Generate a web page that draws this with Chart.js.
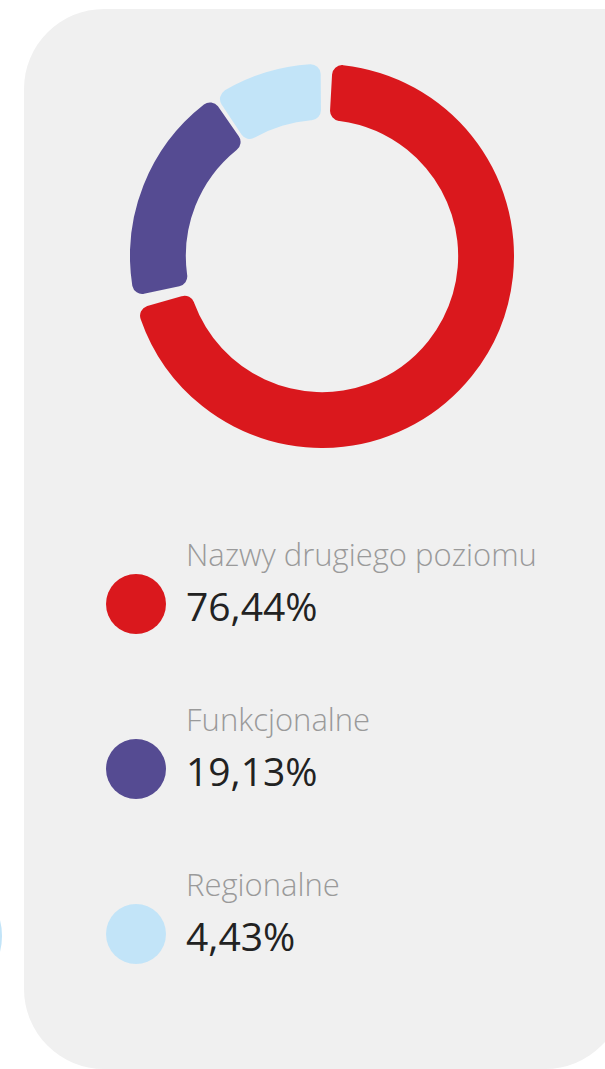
<!DOCTYPE html>
<html lang="pl">
<head>
<meta charset="utf-8">
<script src="https://cdn.jsdelivr.net/npm/chart.js@4"></script>
<style>
  html, body { margin: 0; padding: 0; background: #fff; }
  body { width: 605px; height: 1069px; position: relative; overflow: hidden; font-family: "Open Sans", sans-serif; }
  .panel {
    position: absolute; left: 24px; top: 9px; width: 601px; height: 1060px;
    background: #f0f0f0; border-radius: 80px 0 80px 80px;
  }
  .ghost {
    position: absolute; left: -118px; top: 876px; width: 120px; height: 120px;
    border: 2px solid #c2e4f8; border-radius: 50%; box-sizing: border-box;
  }
  .chart-box { position: absolute; left: 130px; top: 64px; width: 384px; height: 384px; }
  .item { position: absolute; left: 106px; width: 480px; height: 60px; }
  .dot { position: absolute; left: 0; top: 0; width: 60px; height: 60px; border-radius: 50%; }
  .name { position: absolute; left: 80px; top: -35px; font-size: 31px; line-height: 1; font-weight: 300; color: #9a9a9a; white-space: nowrap; }
  .value { position: absolute; left: 80px; top: 12px; font-size: 39px; line-height: 1; color: #222; white-space: nowrap; }
</style>
</head>
<body>
<div class="panel"></div>
<div class="ghost"></div>
<div class="chart-box"><canvas id="donut"></canvas></div>
<div id="legend"></div>
<script>
const categories = ["Nazwy drugiego poziomu", "Funkcjonalne", "Regionalne"];
// shares printed in the legend
const shares = [76.44, 19.13, 4.43];
// arc sizes as drawn in the ring (the small slice is drawn larger than its share)
const arcValues = [71.44, 19.13, 9.43];
const colors = ["#da181d", "#554b92", "#c2e4f8"];

const ctx = document.getElementById("donut").getContext("2d");
const donut = new Chart(ctx, {
  type: "doughnut",
  data: {
    labels: categories,
    datasets: [{
      data: arcValues,
      backgroundColor: colors,
      hoverBackgroundColor: colors,
      borderWidth: 0,
      borderRadius: 10,
      spacing: 8,
      hoverOffset: 0,
    }],
  },
  options: {
    responsive: true,
    maintainAspectRatio: false,
    animation: false,
    cutout: "70.3%",
    layout: { padding: 0 },
    plugins: {
      legend: { display: false },
      tooltip: { enabled: false },
    },
  },
});

const legend = document.getElementById("legend");
categories.forEach((name, i) => {
  const item = document.createElement("div");
  item.className = "item";
  item.style.top = (574 + i * 165) + "px";
  item.innerHTML =
    `<div class="dot" style="background:${colors[i]}"></div>` +
    `<div class="name">${name}</div>` +
    `<div class="value">${shares[i].toFixed(2).replace(".", ",")}%</div>`;
  legend.appendChild(item);
});
</script>
</body>
</html>
